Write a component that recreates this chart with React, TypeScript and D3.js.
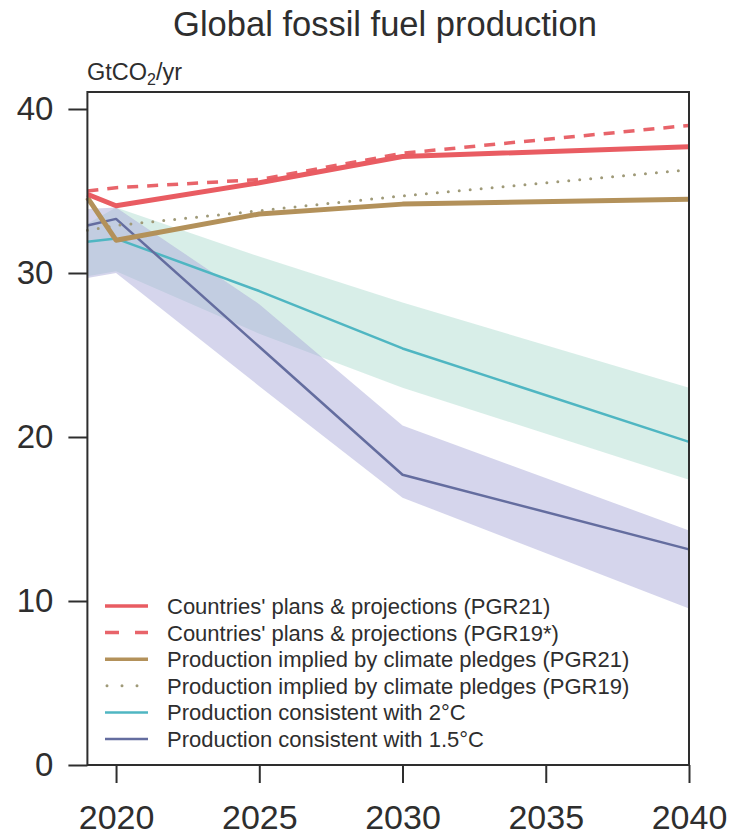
import React, { useEffect, useRef } from "react";
import * as d3 from "d3";

// years at which every series is given
const years = [2019, 2020, 2025, 2030, 2040];

// GtCO2/yr
const plansPGR21 = [34.8, 34.1, 35.5, 37.1, 37.7];
const plansPGR19 = [35.0, 35.2, 35.7, 37.3, 39.0];
const pledgesPGR21 = [34.6, 32.0, 33.6, 34.2, 34.5];
const pledgesPGR19 = [32.6, 32.9, 33.8, 34.7, 36.3];
const twoDeg = [31.9, 32.1, 28.9, 25.4, 19.7];
const twoDegLow = [29.8, 30.1, 26.3, 23.0, 17.4];
const twoDegHigh = [33.0, 34.0, 31.0, 28.2, 23.0];
const onePointFive = [32.9, 33.3, 25.5, 17.7, 13.15];
const onePointFiveLow = [29.7, 30.0, 23.1, 16.3, 9.55];
const onePointFiveHigh = [33.9, 34.0, 28.1, 20.7, 14.3];

const xTicks = [2020, 2025, 2030, 2035, 2040];
const yTicks = [0, 10, 20, 30, 40];

const legendLabels = [
  "Countries' plans & projections (PGR21)",
  "Countries' plans & projections (PGR19*)",
  "Production implied by climate pledges (PGR21)",
  "Production implied by climate pledges (PGR19)",
  "Production consistent with 2°C",
  "Production consistent with 1.5°C",
];

const W = 730;
const H = 835;
const FONT = "'Liberation Sans', Arial, Helvetica, sans-serif";
const INK = "#2e2e2e";

export default function App() {
  const ref = useRef<SVGSVGElement>(null);

  useEffect(() => {
    const svg = d3.select(ref.current);
    svg.selectAll("*").remove();

    const left = 87.4, right = 689, top = 92, bottom = 765;
    const x = d3.scaleLinear().domain([2019, 2040]).range([left, right]);
    const y = d3.scaleLinear().domain([0, 40]).range([bottom, 109]);

    const band = (lo: number[], hi: number[]) =>
      d3.area<number>()
        .x((d, i) => x(years[i]))
        .y0((d, i) => y(lo[i]))
        .y1((d, i) => y(hi[i]))(years);

    const line = (vals: number[]) =>
      d3.line<number>().x((d, i) => x(years[i])).y((d) => y(d))(vals);

    // uncertainty ranges
    svg.append("path").attr("d", band(twoDegLow, twoDegHigh))
      .attr("fill", "#a8d9cc").attr("fill-opacity", 0.45);
    svg.append("path").attr("d", band(onePointFiveLow, onePointFiveHigh))
      .attr("fill", "#ababd9").attr("fill-opacity", 0.5);

    const series = [
      { vals: twoDeg, color: "#4fb6c2", width: 2.5, dash: null, cap: "butt", legDash: null },
      { vals: onePointFive, color: "#646d9f", width: 2.5, dash: null, cap: "butt", legDash: null },
      { vals: pledgesPGR19, color: "#9f9a78", width: 3, dash: "0 11", cap: "round", legDash: "0 15" },
      { vals: pledgesPGR21, color: "#b3915a", width: 5, dash: null, cap: "butt", legDash: null },
      { vals: plansPGR19, color: "#e8646a", width: 3.5, dash: "11 9", cap: "butt", legDash: "14 16" },
      { vals: plansPGR21, color: "#e95c62", width: 5, dash: null, cap: "butt", legDash: null },
    ];

    series.forEach((s) => {
      svg.append("path")
        .attr("d", line(s.vals))
        .attr("fill", "none")
        .attr("stroke", s.color)
        .attr("stroke-width", s.width)
        .attr("stroke-linejoin", "round")
        .attr("stroke-linecap", s.cap)
        .attr("stroke-dasharray", s.dash);
    });

    // frame
    svg.append("rect")
      .attr("x", left).attr("y", top)
      .attr("width", right - left).attr("height", bottom - top)
      .attr("fill", "none").attr("stroke", INK).attr("stroke-width", 2);

    const yAxis = svg.append("g")
      .attr("transform", `translate(${left},0)`)
      .call(d3.axisLeft(y).tickValues(yTicks).tickSize(19).tickPadding(15));
    const xAxis = svg.append("g")
      .attr("transform", `translate(0,${bottom})`)
      .call(d3.axisBottom(x).tickValues(xTicks).tickFormat(d3.format("d")).tickSize(18).tickPadding(22));

    [yAxis, xAxis].forEach((g) => {
      g.select(".domain").remove();
      g.selectAll("line").attr("stroke", INK).attr("stroke-width", 2);
      g.selectAll("text").attr("fill", INK).attr("font-family", FONT);
    });
    yAxis.selectAll("text").attr("font-size", 33);
    xAxis.selectAll("text").attr("font-size", 34);

    // title and unit
    svg.append("text")
      .attr("x", 385).attr("y", 36)
      .attr("text-anchor", "middle")
      .attr("font-family", FONT).attr("font-size", 34.5).attr("fill", INK)
      .text("Global fossil fuel production");

    const unit = svg.append("text")
      .attr("x", 87).attr("y", 80)
      .attr("font-family", FONT).attr("font-size", 23.5).attr("fill", INK);
    unit.append("tspan").text("GtCO");
    unit.append("tspan").attr("font-size", 16).attr("dy", 5).text("2");
    unit.append("tspan").attr("dy", -5).text("/yr");

    // legend, same order as the labels
    const legendStyle = [series[5], series[4], series[3], series[2], series[0], series[1]];
    const leg = svg.append("g").attr("transform", "translate(105,606)");
    legendLabels.forEach((label, i) => {
      const s = legendStyle[i];
      const row = leg.append("g").attr("transform", `translate(0,${i * 26.6})`);
      row.append("line")
        .attr("x1", s.cap === "round" ? 2 : 0).attr("x2", s.cap === "round" ? 33 : 43)
        .attr("stroke", s.color)
        .attr("stroke-width", Math.min(s.width, 3.5))
        .attr("stroke-linecap", s.cap)
        .attr("stroke-dasharray", s.legDash);
      row.append("text")
        .attr("x", 62).attr("dy", "0.36em")
        .attr("font-family", FONT).attr("font-size", 22).attr("fill", INK)
        .text(label);
    });
  }, []);

  return (
    <svg
      ref={ref}
      width={W}
      height={H}
      style={{ position: "absolute", left: 0, top: 0, background: "#fff" }}
    />
  );
}
